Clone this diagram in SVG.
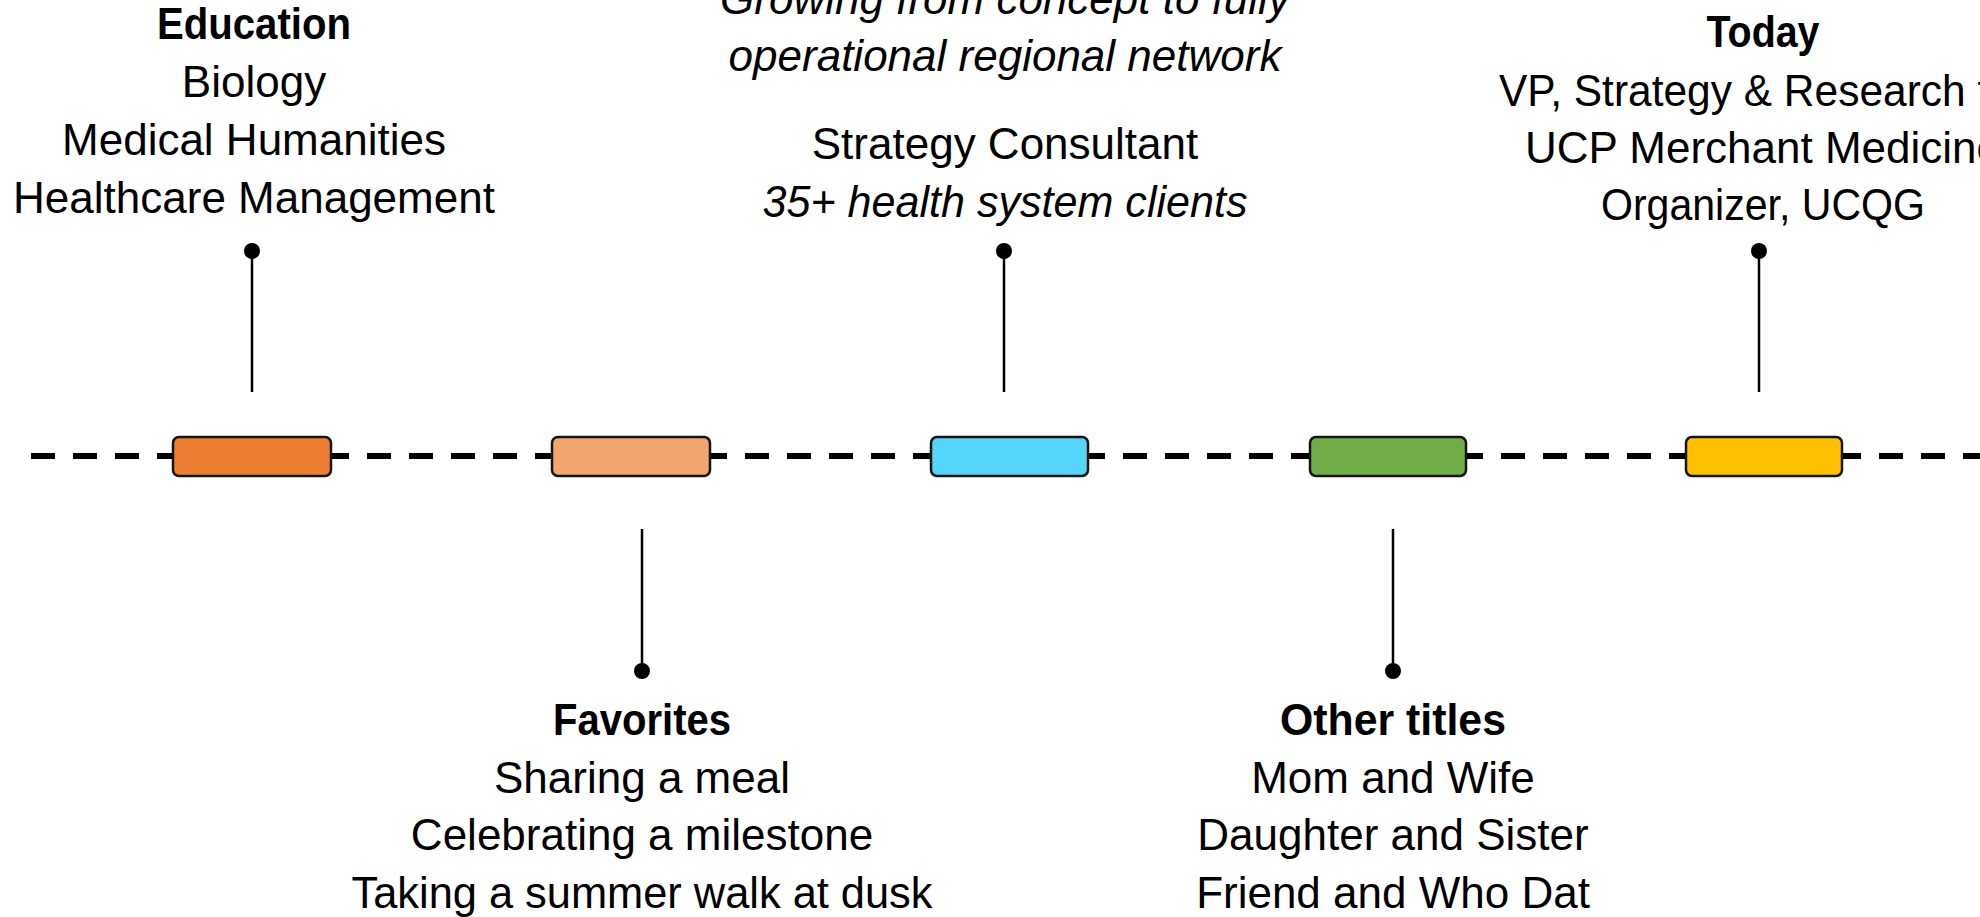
<svg xmlns="http://www.w3.org/2000/svg" width="1980" height="917" viewBox="0 0 1980 917">
<style>
text{font-family:"Liberation Sans",Arial,sans-serif;font-size:44px;fill:#000;text-anchor:middle}
.b{font-weight:bold}
.i{font-style:italic}
.bar{stroke:#151515;stroke-width:2.5}
.stem{stroke:#000;stroke-width:2.5;fill:none}
.dot{fill:#000}
</style>
<rect width="1980" height="917" fill="#fff"/>
<g id="connectors">
<line x1="31" y1="456" x2="1980" y2="456" stroke="#000" stroke-width="6" stroke-dasharray="24 18"/>
<line class="stem" x1="252" y1="251" x2="252" y2="392"/><circle class="dot" cx="252" cy="251" r="8"/>
<line class="stem" x1="1004" y1="251" x2="1004" y2="392"/><circle class="dot" cx="1004" cy="251" r="8"/>
<line class="stem" x1="1759" y1="251" x2="1759" y2="392"/><circle class="dot" cx="1759" cy="251" r="8"/>
<line class="stem" x1="642" y1="529" x2="642" y2="671"/><circle class="dot" cx="642" cy="671" r="8"/>
<line class="stem" x1="1393" y1="529" x2="1393" y2="671"/><circle class="dot" cx="1393" cy="671" r="8"/>
</g>
<g id="node-education">
<rect class="bar" x="173" y="437" width="158" height="39" rx="6" fill="#ED7D31"/>
<text class="b" x="254" y="39" textLength="194" lengthAdjust="spacingAndGlyphs">Education</text>
<text x="254" y="97">Biology</text>
<text x="254" y="155">Medical Humanities</text>
<text x="254" y="213">Healthcare Management</text>
</g>
<g id="node-favorites">
<rect class="bar" x="552" y="437" width="158" height="39" rx="6" fill="#F1A56F"/>
<text class="b" x="642" y="735" textLength="178" lengthAdjust="spacingAndGlyphs">Favorites</text>
<text x="642" y="793">Sharing a meal</text>
<text x="642" y="850">Celebrating a milestone</text>
<text x="642" y="908" textLength="581" lengthAdjust="spacingAndGlyphs">Taking a summer walk at dusk</text>
</g>
<g id="node-consultant">
<rect class="bar" x="931" y="437" width="157" height="39" rx="6" fill="#55D5FA"/>
<text class="i" x="1005" y="14">Growing from concept to fully</text>
<text class="i" x="1005" y="71">operational regional network</text>
<text x="1005" y="159">Strategy Consultant</text>
<text class="i" x="1005" y="217" textLength="485" lengthAdjust="spacingAndGlyphs">35+ health system clients</text>
</g>
<g id="node-other-titles">
<rect class="bar" x="1310" y="437" width="156" height="39" rx="6" fill="#70AD47"/>
<text class="b" x="1393" y="735" textLength="226" lengthAdjust="spacingAndGlyphs">Other titles</text>
<text x="1393" y="793">Mom and Wife</text>
<text x="1393" y="850">Daughter and Sister</text>
<text x="1393" y="908">Friend and Who Dat</text>
</g>
<g id="node-today">
<rect class="bar" x="1686" y="437" width="156" height="39" rx="6" fill="#FFC000"/>
<text class="b" x="1763" y="47" textLength="113" lengthAdjust="spacingAndGlyphs">Today</text>
<text x="1499" y="106" style="text-anchor:start" textLength="528" lengthAdjust="spacingAndGlyphs">VP, Strategy &amp; Research for</text>
<text x="1525" y="163" style="text-anchor:start">UCP Merchant Medicine</text>
<text x="1763" y="220" textLength="324" lengthAdjust="spacingAndGlyphs">Organizer, UCQG</text>
</g>
</svg>
